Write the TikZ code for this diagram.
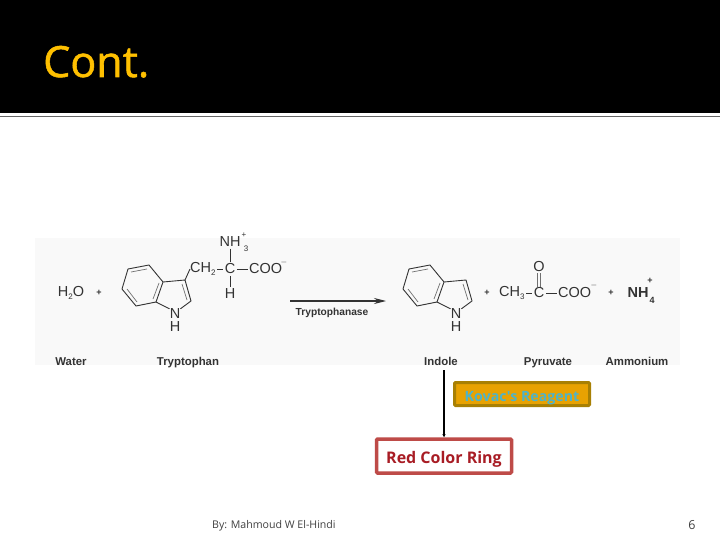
\documentclass[tikz,border=0pt]{standalone}
\usepackage{fontspec}
\setmainfont{Liberation Sans}
\newfontfamily\slidefont{Open Sans}
\newfontfamily\titlefont[FakeBold=1.2]{Open Sans}
\usetikzlibrary{arrows.meta}
\definecolor{gold}{HTML}{FFC000}
\definecolor{kovbg}{HTML}{E8A202}
\definecolor{kovedge}{HTML}{A88004}
\definecolor{kovtext}{HTML}{4FB3C8}
\definecolor{ringedge}{HTML}{BE4B48}
\definecolor{ringtext}{HTML}{A81C24}
\definecolor{ink}{HTML}{333333}
\tikzset{
  x=1pt,y=-1pt,
  chem/.style={inner sep=0pt,text=ink,font=\fontsize{14.5}{15}\selectfont},
  small/.style={inner sep=0pt,text=ink,font=\fontsize{8}{8}\selectfont},
  plus/.style={inner sep=0pt,text=ink,font=\bfseries\fontsize{9}{9}\selectfont},
  lab/.style={anchor=base,inner sep=0pt,text=ink,font=\bfseries\fontsize{11.4}{12}\selectfont},
  bondline/.style={draw=ink,line width=.9pt,line join=round},
  bondthin/.style={draw=ink!70,line width=.7pt},
  linkbond/.style={draw=ink,line width=.8pt,shorten >=1.5pt,shorten <=1.5pt},
}
\newcommand{\indole}[3]{%
  \begin{scope}[shift={(#1,#2)}]
    \node[chem] (#3N) at (47,45) {N};
    \node[chem] (#3H) at (47,58) {H};
    \coordinate (#3a) at (0,0);
    \coordinate (#3b) at (21,-4);
    \coordinate (#3c) at (35,13);
    \coordinate (#3d) at (28,33);
    \coordinate (#3e) at (8,37);
    \coordinate (#3f) at (-6,20);
    \coordinate (#3g) at (57,11);
    \coordinate (#3i) at (63,32);
    \draw[bondline] (#3a)--(#3b)--(#3c)--(#3d)--(#3e)--(#3f)--cycle;
    \draw[bondline] (#3c)--(#3g)--(#3i)--(#3N.north east);
    \draw[bondline] (#3d)--(#3N.north west);
    \draw[bondthin] (3,3)--(19,0);
    \draw[bondthin] (31,14)--(25,30);
    \draw[bondthin] (9,33)--(-1,20);
    \draw[bondthin] (54,15)--(59,31);
  \end{scope}}
\begin{document}
\begin{tikzpicture}
\useasboundingbox (0,0) rectangle (720,540);
\fill[white] (0,0) rectangle (720,540);
\fill[black] (0,0) rectangle (720,113);
\draw[black!60,line width=1pt] (0,117) -- (720,117);
\node[anchor=base west,inner sep=0pt,text=gold,font=\titlefont\fontsize{43}{45}\selectfont] (title) at (43,77) {Cont.};
\fill[black!2.5] (35,238) rectangle (680,365);
% left side
\node[chem] (water) at (71,293) {H\raisebox{-2.5pt}{\fontsize{8}{8}\selectfont 2}O};
\node[plus] (p1) at (99,293) {+};
\indole{128}{269}{t}
\node[chem,anchor=west] (ch2) at (190,269) {CH\raisebox{-2.5pt}{\fontsize{8}{8}\selectfont 2}};
\node[chem] (c1) at (230,269) {C};
\node[chem] (nh3) at (230,242) {NH};
\node[small] (n3) at (246,249) {3};
\node[small] (np) at (244,235) {+};
\node[chem] (h1) at (230,294) {H};
\node[chem,anchor=west] (coo1) at (249,269) {COO};
\node[small] (cm1) at (284,262) {$-$};
\draw[bondline] (tg) -- (ch2.west);
\draw[linkbond] (ch2.east) -- (c1.west);
\draw[linkbond] (c1.east) -- (coo1.west);
\draw[linkbond] (nh3.south) -- (c1.north);
\draw[linkbond] (c1.south) -- (h1.north);
% arrow
\coordinate (as) at (290,301);
\coordinate (ae) at (386,301);
\draw[draw=ink,line width=1.1pt,-{Stealth[length=12pt,width=6pt]}] (as) -- (ae);
\node[inner sep=0pt,anchor=base,text=ink,font=\bfseries\fontsize{10.2}{11}\selectfont] (enz) at (332,315) {Tryptophanase};
% right side
\indole{409}{269}{i}
\node[plus] (p2) at (487,293) {+};
\node[chem,anchor=west] (ch3) at (499,293) {CH\raisebox{-2.5pt}{\fontsize{8}{8}\selectfont 3}};
\node[chem] (c2) at (539,293) {C};
\node[chem] (o) at (539,267) {O};
\node[chem,anchor=west] (coo2) at (558,293) {COO};
\node[small] (cm2) at (594,285) {$-$};
\draw[linkbond] (ch3.east) -- (c2.west);
\draw[linkbond] (c2.east) -- (coo2.west);
\draw[bondthin,shorten >=1pt,shorten <=1pt] ([xshift=-1.5pt]c2.north) -- ([xshift=-1.5pt]o.south);
\draw[bondthin,shorten >=1pt,shorten <=1pt] ([xshift=1.5pt]c2.north) -- ([xshift=1.5pt]o.south);
\node[plus] (p3) at (611,293) {+};
\node[chem,font=\bfseries\fontsize{14.5}{15}\selectfont] (nh4) at (638,293) {NH};
\node[small,font=\bfseries\fontsize{9}{9}\selectfont] (n4) at (652,300) {4};
\node[small,font=\bfseries\fontsize{9}{9}\selectfont] (n4p) at (650,281) {+};
% labels
\node[lab] (lw) at (71,365) {Water};
\node[lab] (lt) at (188,365) {Tryptophan};
\node[lab] (li) at (441,365) {Indole};
\node[lab] (lp) at (548,365) {Pyruvate};
\node[lab] (la) at (637,365) {Ammonium};
% boxes
\node[draw=kovedge,fill=kovbg,line width=3pt,rounded corners=1pt,minimum width=135pt,minimum height=23pt,inner sep=0pt,text=kovtext,font=\slidefont\bfseries\fontsize{14.2}{15}\selectfont] (kov) at (522,394) {\raisebox{-7pt}[0pt][0pt]{Kovac's Reagent}};
\node[draw=ringedge,fill=white,line width=3.5pt,rounded corners=1pt,minimum width=135pt,minimum height=34pt,inner sep=0pt,text=ringtext,font=\slidefont\bfseries\fontsize{16}{17}\selectfont] (ring) at (444,456) {\raisebox{-7pt}[0pt][0pt]{Red Color Ring}};
\coordinate (top) at (444,370);
\draw[black,line width=1.3pt,-{Stealth[length=3pt,width=3pt]}] (top) -- (ring.north -| top);
% footer
\node[anchor=base west,inner sep=0pt,text=black!75,font=\slidefont\fontsize{10.6}{11}\selectfont] (foot) at (212,528) {By: Mahmoud W El-Hindi};
\node[anchor=base,inner sep=0pt,text=black!75,font=\slidefont\fontsize{12.5}{13}\selectfont] (pg) at (692,529) {6};
\end{tikzpicture}
\end{document}
